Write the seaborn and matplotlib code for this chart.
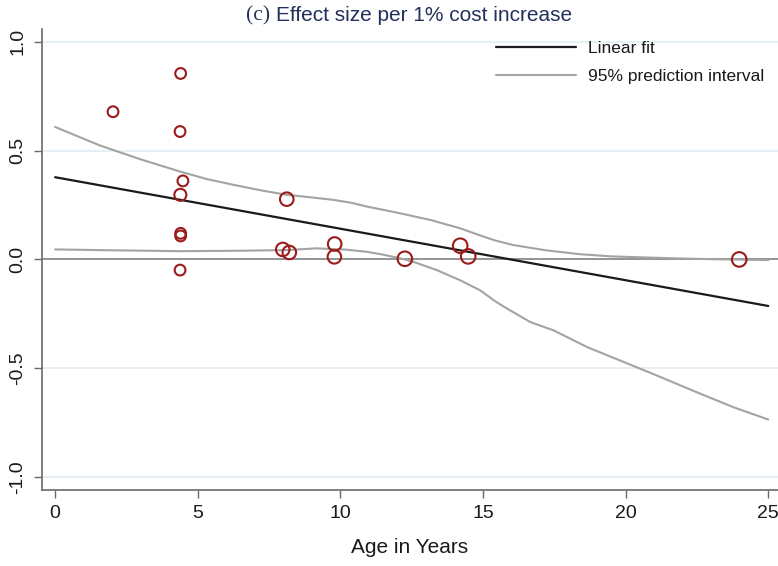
import matplotlib
matplotlib.use("Agg")
import matplotlib.pyplot as plt
import seaborn as sns
import pandas as pd

# ---- data ----
age = [2.03, 4.40, 4.38, 4.48, 4.39, 4.40, 4.40, 4.38, 8.12, 7.98, 8.21,
       9.80, 9.79, 12.26, 14.20, 14.48, 23.98]
effect = [0.679, 0.855, 0.588, 0.361, 0.297, 0.120, 0.108, -0.049, 0.277,
          0.046, 0.032, 0.071, 0.012, 0.003, 0.063, 0.014, 0.000]
weight = [1, 1, 1, 1, 2, 1, 1, 1, 3, 3, 3, 3, 3, 4, 4, 4, 4]

fit_x = [0.0, 25.0]
fit_y = [0.378, -0.214]

upper_x = [0.0, 1.57, 3.0, 4.38, 5.3, 6.25, 7.2, 8.12, 9.0, 9.75, 10.4,
           10.93, 11.5, 12.1, 13.2, 14.2, 14.8, 15.4, 16.07, 17.2, 18.4,
           19.5, 20.75, 22.0, 23.1, 25.0]
upper_y = [0.609, 0.524, 0.460, 0.404, 0.370, 0.343, 0.318, 0.297, 0.285,
           0.274, 0.260, 0.243, 0.228, 0.212, 0.180, 0.143, 0.115, 0.088,
           0.066, 0.042, 0.024, 0.014, 0.009, 0.004, 0.001, -0.003]

lower_x = [0.0, 2.0, 4.38, 6.5, 8.12, 9.17, 10.2, 10.93, 11.5, 12.1, 12.56,
           13.4, 14.2, 14.9, 15.4, 15.84, 16.66, 17.47, 18.65, 19.81, 21.1,
           22.5, 23.79, 25.0]
lower_y = [0.046, 0.042, 0.038, 0.040, 0.043, 0.051, 0.045, 0.035, 0.022,
           0.005, -0.011, -0.050, -0.096, -0.142, -0.190, -0.226, -0.288,
           -0.326, -0.403, -0.465, -0.534, -0.611, -0.680, -0.736]

x_ticks = [0, 5, 10, 15, 20, 25]
y_ticks = [-1.0, -0.5, 0.0, 0.5, 1.0]
y_tick_labels = ["-1.0", "-0.5", "0.0", "0.5", "1.0"]

sns.set_style("white")
plt.rcParams['font.family'] = ['Liberation Sans', 'DejaVu Sans']

fig = plt.figure(figsize=(7.78, 5.66), dpi=100)
ax = fig.add_axes([41.7 / 778, 1 - 490 / 566, 1 - 41.7 / 778, (490 - 29.3) / 566])

# grid lines
for yv in y_ticks:
    ax.axhline(yv, color="#e4f0f4", lw=1.4, zorder=0)
ax.axhline(0.0, color="#858585", lw=1.2, zorder=1)

df_fit = pd.DataFrame({"x": fit_x, "y": fit_y})
df_up = pd.DataFrame({"x": upper_x, "y": upper_y})
df_lo = pd.DataFrame({"x": lower_x, "y": lower_y})

sns.lineplot(data=df_fit, x="x", y="y", ax=ax, color="#1a1a1a", lw=1.6,
             label="Linear fit", zorder=3)
sns.lineplot(data=df_up, x="x", y="y", ax=ax, color="#a3a3a3", lw=1.5,
             label="95% prediction interval", zorder=2)
sns.lineplot(data=df_lo, x="x", y="y", ax=ax, color="#a3a3a3", lw=1.5,
             zorder=2)

df_pts = pd.DataFrame({"age": age, "effect": effect, "w": weight})
sns.scatterplot(data=df_pts, x="age", y="effect", size="w",
                sizes={1: 60, 2: 75, 3: 95, 4: 110}, ax=ax, legend=False,
                facecolor="none", edgecolor="#9b1b1b", linewidth=1.5,
                zorder=4)

ax.set_xlim(-0.47, 25.34)
ax.set_ylim(-1.06, 1.058)
ax.set_xticks(x_ticks)
ax.set_yticks(y_ticks)
ax.set_yticklabels(y_tick_labels, rotation=90, va="center")
ax.tick_params(axis="both", which="both", length=6, width=1, color="#6a6a6a",
               labelsize=14, labelcolor="#1a1a1a", pad=5, left=True, bottom=True)

for s in ["top", "right"]:
    ax.spines[s].set_visible(False)
for s in ["left", "bottom"]:
    ax.spines[s].set_color("#6a6a6a")
    ax.spines[s].set_linewidth(1.2)

ax.set_xlabel("Age in Years", fontsize=15, color="#1a1a1a", labelpad=11)
ax.set_ylabel("")

leg = ax.legend(loc="upper left", bbox_to_anchor=(0.617, 0.975), frameon=False,
                fontsize=12.5, handlelength=4.6, handletextpad=0.7,
                labelspacing=0.75, borderpad=0, borderaxespad=0)
for t in leg.get_texts():
    t.set_color("#1a1a1a")

# title: "(c)" in serif, rest in sans
fig.canvas.draw()
renderer = fig.canvas.get_renderer()
ty = 1 - 20.7 / 566
t1 = fig.text(246 / 778, ty, "(c) ", fontsize=15.5,
              family=["Liberation Serif", "DejaVu Serif"], color="#22305a",
              ha="left", va="baseline")
bb = t1.get_window_extent(renderer)
fig.text(bb.x1 / fig.bbox.width, ty, "Effect size per 1% cost increase",
         fontsize=15, color="#22305a", ha="left", va="baseline")

fig.savefig("out.png", dpi=100)
